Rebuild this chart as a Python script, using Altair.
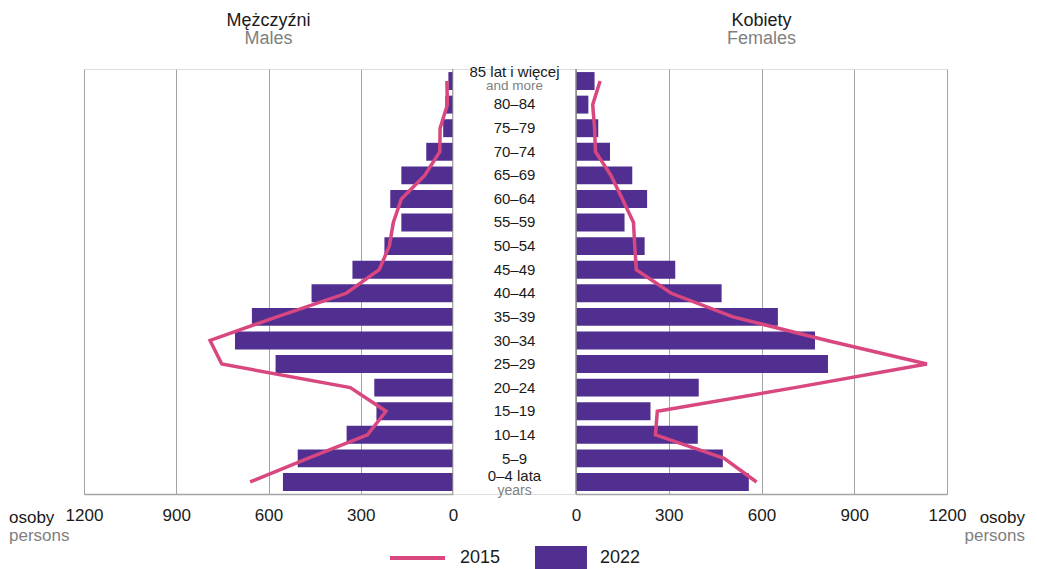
import altair as alt
import pandas as pd

ages = ["85+", "80-84", "75-79", "70-74", "65-69", "60-64", "55-59", "50-54", "45-49",
        "40-44", "35-39", "30-34", "25-29", "20-24", "15-19", "10-14", "5-9", "0-4"]
age_labels = ["85 lat i więcej", "80–84", "75–79", "70–74", "65–69", "60–64", "55–59",
              "50–54", "45–49", "40–44", "35–39", "30–34", "25–29", "20–24", "15–19",
              "10–14", "5–9", "0–4 lata"]
sub_labels = ["and more"] + [""] * 16 + ["years"]

males_2022 = [15, 25, 32, 87, 168, 204, 168, 223, 327, 460, 654, 709, 577, 256, 249, 346, 505, 553]
males_2015 = [20, 18, 42, 43, 92, 168, 194, 207, 240, 347, 573, 790, 752, 334, 218, 278, 472, 660]
females_2022 = [60, 40, 72, 110, 182, 230, 157, 222, 321, 471, 653, 773, 815, 397, 241, 394, 475, 559]
females_2015 = [78, 54, 60, 63, 113, 150, 186, 190, 195, 308, 508, 812, 1135, 708, 263, 257, 479, 584]

ticks = [0, 300, 600, 900, 1200]

PURPLE = "#512f91"
PINK = "#d8477f"
GRAY = "#7f7f7f"
BLACK = "#1a1a1a"
FONT = "Liberation Sans"

H = 425
WL, WM, WR = 369, 123, 371

df = pd.DataFrame({
    "age": ages, "idx": list(range(len(ages))),
    "label": age_labels, "sub": sub_labels,
    "m22": males_2022, "m15": males_2015,
    "f22": females_2022, "f15": females_2015,
})

yenc = alt.Y("age:N", sort=ages,
             scale=alt.Scale(domain=ages, paddingInner=0.24, paddingOuter=0.13),
             axis=None)


def xaxis():
    return alt.Axis(values=ticks, format="d", grid=True, gridColor="#a3a3a3", gridWidth=1,
                    ticks=False, domain=True, domainColor="#a3a3a3", domainWidth=1.5,
                    labelFontSize=17, labelColor=BLACK, labelPadding=13,
                    labelFlush=False, title=None, labelFont=FONT)


def one(text):
    return alt.Chart(pd.DataFrame({"t": [text]}))


def panel(val22, val15, reverse, width, title_pl, title_en, side):
    base = alt.Chart(df)
    xs = alt.Scale(domain=[0, 1200], reverse=reverse)
    bars = base.mark_bar(color=PURPLE).encode(
        x=alt.X(f"{val22}:Q", scale=xs, axis=xaxis()), y=yenc)
    line = base.mark_line(color=PINK, strokeWidth=3.5).encode(
        x=alt.X(f"{val15}:Q", scale=xs), y=yenc, order="idx:Q")
    zero = alt.Chart(pd.DataFrame({"z": [0]})).mark_rule(color="#8a8a8a", strokeWidth=1.5).encode(
        x=alt.X("z:Q", scale=xs), y=alt.value(0), y2=alt.value(H))
    t1 = one(title_pl).mark_text(fontSize=18, color=BLACK, font=FONT, baseline="middle").encode(
        text="t:N", x=alt.value(width / 2), y=alt.value(-48))
    t2 = one(title_en).mark_text(fontSize=18, color=GRAY, font=FONT, baseline="middle").encode(
        text="t:N", x=alt.value(width / 2), y=alt.value(-30))
    if side == "left":
        ux, al = -75, "left"
    else:
        ux, al = width + 78, "right"
    u1 = one("osoby").mark_text(fontSize=17, color=BLACK, font=FONT, align=al, baseline="middle").encode(
        text="t:N", x=alt.value(ux), y=alt.value(H + 24))
    u2 = one("persons").mark_text(fontSize=17, color=GRAY, font=FONT, align=al, baseline="middle").encode(
        text="t:N", x=alt.value(ux), y=alt.value(H + 42))
    return alt.layer(bars, zero, line, t1, t2, u1, u2).properties(width=width, height=H)


left = panel("m22", "m15", True, WL, "Mężczyźni", "Males", "left")
right = panel("f22", "f15", False, WR, "Kobiety", "Females", "right")

mid_base = alt.Chart(df)
xm = WM / 2
mid_main = mid_base.transform_filter("datum.idx > 0 && datum.idx < 17").mark_text(
    fontSize=15, color=BLACK, font=FONT, baseline="middle").encode(
    text="label:N", y=yenc, x=alt.value(xm))
mid_first = mid_base.transform_filter("datum.idx == 0").mark_text(
    fontSize=15, color=BLACK, font=FONT, baseline="middle", dy=-9).encode(
    text="label:N", y=yenc, x=alt.value(xm))
mid_first_sub = mid_base.transform_filter("datum.idx == 0").mark_text(
    fontSize=13.5, color=GRAY, font=FONT, baseline="middle", dy=5.5).encode(
    text="sub:N", y=yenc, x=alt.value(xm))
mid_last = mid_base.transform_filter("datum.idx == 17").mark_text(
    fontSize=15, color=BLACK, font=FONT, baseline="middle", dy=-6).encode(
    text="label:N", y=yenc, x=alt.value(xm))
mid_last_sub = mid_base.transform_filter("datum.idx == 17").mark_text(
    fontSize=14, color=GRAY, font=FONT, baseline="middle", dy=9).encode(
    text="sub:N", y=yenc, x=alt.value(xm))

LY = H + 64
leg_line = one("2015").mark_rule(color=PINK, strokeWidth=4).encode(
    x=alt.value(-63), x2=alt.value(-8), y=alt.value(LY))
leg_t1 = one("2015").mark_text(fontSize=18, color=BLACK, font=FONT, align="left", baseline="middle").encode(
    text="t:N", x=alt.value(7), y=alt.value(LY))
leg_rect = one("2022").mark_rect(color=PURPLE).encode(
    x=alt.value(82), x2=alt.value(134), y=alt.value(LY - 12), y2=alt.value(LY + 14))
leg_t2 = one("2022").mark_text(fontSize=18, color=BLACK, font=FONT, align="left", baseline="middle").encode(
    text="t:N", x=alt.value(147), y=alt.value(LY))

middle = alt.layer(mid_main, mid_first, mid_first_sub, mid_last, mid_last_sub,
                   leg_line, leg_t1, leg_rect, leg_t2).properties(width=WM, height=H)

chart = alt.hconcat(left, middle, right, spacing=0, bounds="flush").properties(
    padding={"top": 3, "left": 0, "right": 0, "bottom": 0}
).configure_view(stroke=None).configure(font=FONT)

chart.save("out.html", embed_options={"renderer": "svg", "actions": False})
